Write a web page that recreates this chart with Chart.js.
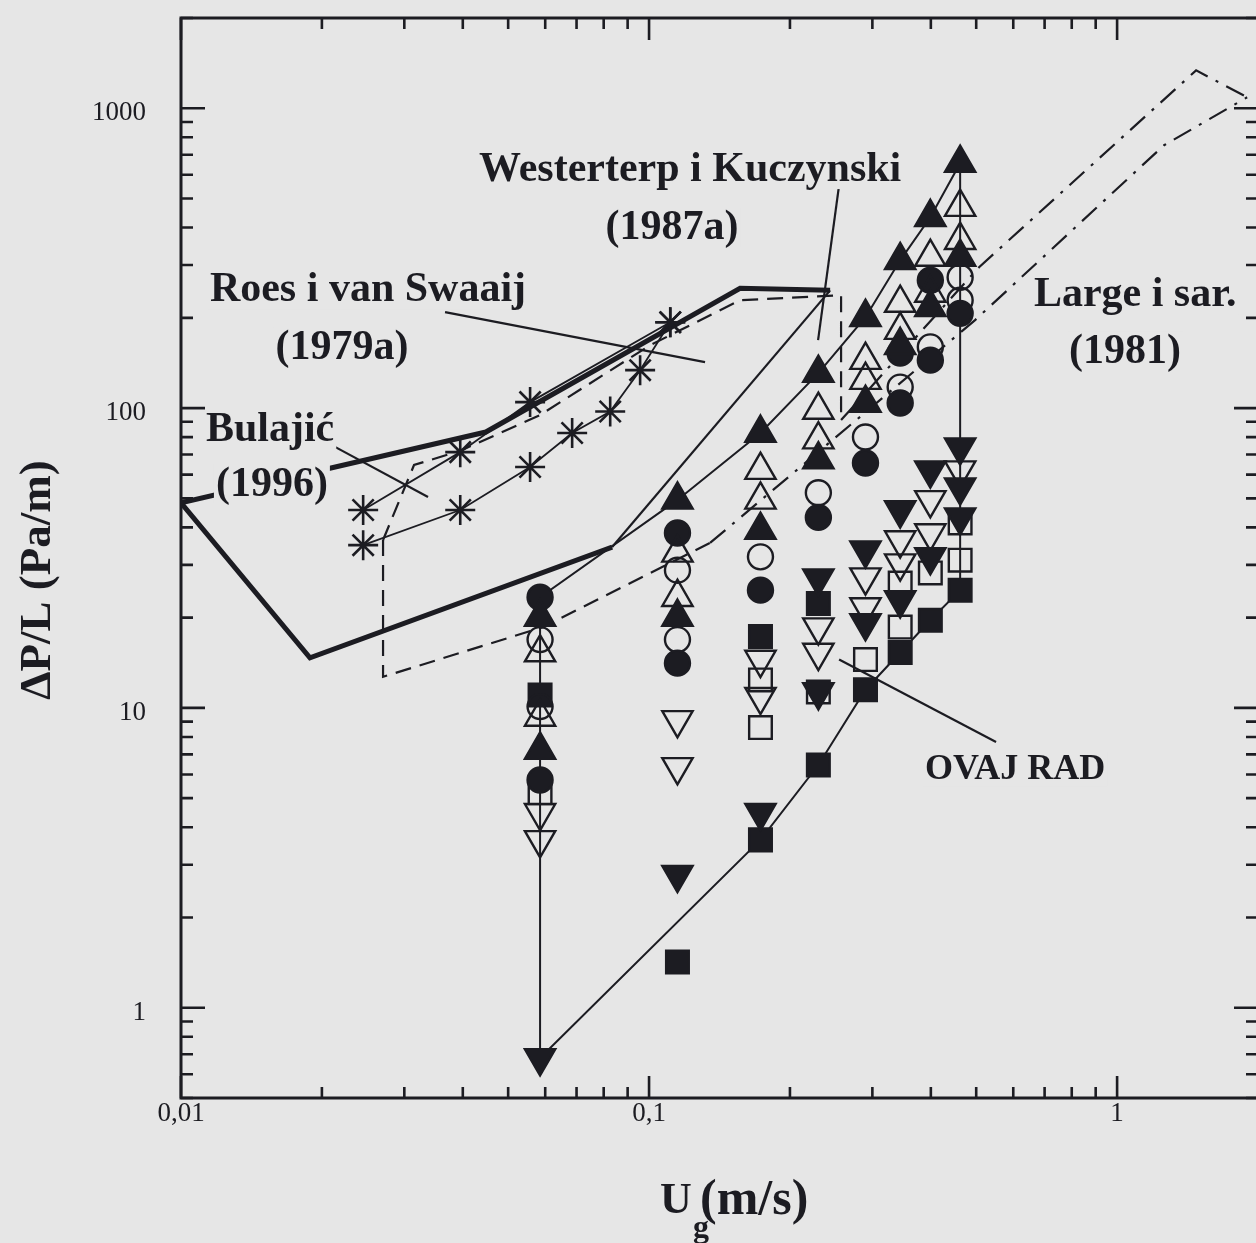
<!DOCTYPE html>
<html><head><meta charset="utf-8">
<script src="https://cdn.jsdelivr.net/npm/chart.js@4"></script>
<style>html,body{margin:0;padding:0;overflow:hidden;background:#e6e6e6}
#wrap{position:absolute;left:0;top:0;width:1262px;height:1243px}</style>
</head><body>
<div id="wrap"><canvas id="c"></canvas></div>
<script>
// ---------- DATA ----------
// gas velocity columns of "OVAJ RAD" (m/s)
const ugCols = [0.0585, 0.115, 0.173, 0.23, 0.29, 0.344, 0.399, 0.462];
// series values (Pa/m), one per column, null = no point
const triUpFilledA  = [20.1, 49.4, 82.6, 130.8, 201, 311, 433, 656];
const triUpFilledB  = [7.24, 20.1, 39.2, 67.3, 103.9, 162, 217, 319];
const triUpOpenA    = [15.3, 32.9, 62.1, 98.5, 144.5, 224, 319, 468];
const triUpOpenB    = [9.33, 23.4, 49.4, 78.5, 124, 182, 242, 363];
const circOpenA     = [16.9, 28.8, 31.9, 52.2, 80.1, 117.5, 160, 273];
const circOpenB     = [10.1, 16.9, null, null, null, null, null, 229];
const circFilledA   = [23.4, 38.3, 24.7, 43.2, 65.6, 104, 144.5, 207];
const circFilledB   = [5.75, 14.1, null, null, null, 152.5, 267, null];
const triDownFilledA = [0.68, 2.78, 4.47, 27.1, 33.6, 45.7, 62.1, 74.1];
const triDownFilledB = [null, null, null, 11.3, 19.2, 22.9, 31.9, 43.3];
const triDownFilledC = [null, null, null, null, null, null, null, 54.5];
const triDownOpenA  = [4.47, 9.12, 14.5, 18.6, 27.3, 36.3, 49.4, 62.1];
const triDownOpenB  = [3.63, 6.36, 10.9, 15.3, 21.7, 30.4, 38.3, null];
const sqOpenA       = [5.21, null, 12.4, 11.3, 14.5, 26.1, 28.2, 41.4];
const sqOpenB       = [null, null, 8.6, null, null, 18.6, null, 31.1];
const sqFilledA     = [11.05, 1.42, 3.63, 6.45, 11.5, 15.3, 19.6, 24.7];
const sqFilledB     = [null, null, 17.3, 22.3, null, null, null, null];

// envelope of this work's data
const envX = [0.0585, 0.0585, 0.115, 0.173, 0.23, 0.29, 0.344, 0.399, 0.462, 0.462, 0.399, 0.344, 0.29, 0.23, 0.173, 0.0585];
const envY = [0.68, 23.4, 49.4, 82.6, 130.8, 201, 311, 433, 656, 24.7, 19.6, 15.3, 11.5, 6.45, 3.63, 0.68];

// Roes i van Swaaij (1979a) asterisks
const roesUpperX = [0.0245, 0.0395, 0.0557, 0.111];
const roesUpperY = [45.7, 71.3, 104.7, 193.4];
const roesLowerX = [0.0245, 0.0395, 0.0557, 0.0685, 0.0826, 0.0957, 0.111];
const roesLowerY = [34.9, 45.7, 63.6, 82.6, 97.4, 133.8, 193.4];

// Bulajić (1996)
const bulUpperX = [0.01, 0.0448, 0.1565, 0.2437];
const bulUpperY = [48.3, 83.2, 251, 247];
const bulLowerX = [0.01, 0.01886, 0.0834];
const bulLowerY = [48.3, 14.7, 34.4];
const bulRightX = [0.0834, 0.2437];
const bulRightY = [34.4, 247];

// Westerterp i Kuczynski (1987a)
const wkUpperX = [0.02702, 0.03147, 0.03947, 0.0585, 0.1005, 0.1565, 0.2572, 0.2572];
const wkUpperY = [36.3, 64.6, 72.0, 94.8, 162, 229, 238, 91.2];
const wkLowerX = [0.02702, 0.02702, 0.05935, 0.135];
const wkLowerY = [36.3, 12.7, 18.6, 35.5];

// Large i sar. (1981)
const lgLowerX = [0.135, 0.4972, 1.26, 1.896];
const lgLowerY = [35.5, 196.5, 753, 1088];
const lgUpperX = [0.2572, 0.5071, 1.475, 1.896];
const lgUpperY = [91.2, 295, 1338, 1088];

// leader lines
const leadWkX = [0.2559, 0.2297];   const leadWkY = [584.6, 168.5];
const leadRoesX = [0.03665, 0.1317]; const leadRoesY = [208.9, 142.3];
const leadBulX = [0.02061, 0.03371]; const leadBulY = [76.4, 50.5];
const leadOvajX = [0.2547, 0.5513];  const leadOvajY = [14.5, 7.70];

// annotation texts
const labelTexts = ['Westerterp i Kuczynski', '(1987a)', 'Roes i van Swaaij', '(1979a)', 'Bulajić', '(1996)', 'Large i sar.', '(1981)', 'OVAJ RAD'];
const labelX = [0.1224, 0.1120, 0.02509, 0.02208, 0.0155, 0.01564, 1.093, 1.040, 0.6053];
const labelY = [621.5, 398, 247.4, 158.5, 84.5, 55.4, 238, 153.7, 6.21];
const labelSize = [42, 42, 42, 42, 42, 42, 42, 42, 36];

const xTickLabels = ['0,01', '0,1', '1'];
const xTickValues = [0.01, 0.1, 1];
const yTickLabels = ['1', '10', '100', '1000'];
const yTickValues = [1, 10, 100, 1000];

// ---------- CHART ----------
const INK = '#1c1c22';
const BG = '#e6e6e6';
function pts(xs, ys) { const o = []; xs.forEach((x, i) => { if (ys[i] != null) o.push({x: x, y: ys[i]}); }); return o; }
function marker(ys, style, filled, radius, rot) {
  return { data: pts(ugCols, ys), showLine: false, pointStyle: style, pointRotation: rot || 0,
    pointRadius: radius, pointHoverRadius: radius,
    pointBackgroundColor: filled ? INK : 'rgba(0,0,0,0)', pointBorderColor: INK, pointBorderWidth: 2.4 };
}
function line(xs, ys, width, dash) {
  return { data: pts(xs, ys), showLine: true, pointRadius: 0, pointHoverRadius: 0, borderColor: INK,
    borderWidth: width, borderDash: dash || [], fill: false, tension: 0, borderJoinStyle: 'miter' };
}
function star(xs, ys) {
  return { data: pts(xs, ys), showLine: true, pointStyle: 'star', pointRadius: 15, pointHoverRadius: 15,
    pointBorderColor: INK, pointBorderWidth: 2.6, pointBackgroundColor: INK, borderColor: INK, borderWidth: 1.8, tension: 0 };
}

const TRI = 17.5, CIR = 12.5, SQ = 16;
const datasets = [
  marker(triUpFilledA, 'triangle', true, TRI),
  marker(triUpFilledB, 'triangle', true, TRI),
  marker(triUpOpenA, 'triangle', false, TRI),
  marker(triUpOpenB, 'triangle', false, TRI),
  marker(circFilledA, 'circle', true, CIR),
  marker(circFilledB, 'circle', true, CIR),
  marker(circOpenA, 'circle', false, CIR),
  marker(circOpenB, 'circle', false, CIR),
  marker(triDownFilledA, 'triangle', true, TRI, 180),
  marker(triDownFilledB, 'triangle', true, TRI, 180),
  marker(triDownFilledC, 'triangle', true, TRI, 180),
  marker(triDownOpenA, 'triangle', false, TRI, 180),
  marker(triDownOpenB, 'triangle', false, TRI, 180),
  marker(sqFilledA, 'rect', true, SQ),
  marker(sqFilledB, 'rect', true, SQ),
  marker(sqOpenA, 'rect', false, SQ),
  marker(sqOpenB, 'rect', false, SQ),
  star(roesUpperX, roesUpperY),
  star(roesLowerX, roesLowerY),
  line(envX, envY, 2),
  line(bulUpperX, bulUpperY, 5),
  line(bulLowerX, bulLowerY, 5),
  line(bulRightX, bulRightY, 2.2),
  line(wkUpperX, wkUpperY, 2.2, [16, 9]),
  line(wkLowerX, wkLowerY, 2.2, [16, 9]),
  line(lgLowerX, lgLowerY, 2.2, [20, 9, 3, 9]),
  line(lgUpperX, lgUpperY, 2.2, [20, 9, 3, 9]),
  line(leadWkX, leadWkY, 2.2),
  line(leadRoesX, leadRoesY, 2.2),
  line(leadBulX, leadBulY, 2.2),
  line(leadOvajX, leadOvajY, 2.2)
];

const AREA = { left: 181, top: 18, right: 1258, bottom: 1098 };

const decor = {
  id: 'decor',
  beforeDraw(chart) {
    const c = chart.ctx; c.save(); c.fillStyle = BG; c.fillRect(0, 0, chart.width, chart.height); c.restore();
  },
  afterDatasetsDraw(chart) {
    const c = chart.ctx, xs = chart.scales.x, ys = chart.scales.y, a = chart.chartArea;
    c.save();
    // annotation labels with paper boxes
    c.textAlign = 'center'; c.textBaseline = 'middle';
    labelTexts.forEach((t, i) => {
      c.font = 'bold ' + labelSize[i] + 'px "Liberation Serif", "Times New Roman", serif';
      const px = xs.getPixelForValue(labelX[i]), py = ys.getPixelForValue(labelY[i]);
      const w = c.measureText(t).width;
      c.fillStyle = BG; c.fillRect(px - w / 2 - 2, py - labelSize[i] * 0.5, w + 4, labelSize[i] * 0.95);
      c.fillStyle = INK; c.fillText(t, px, py);
    });
    // frame
    c.strokeStyle = INK; c.lineWidth = 3;
    c.strokeRect(a.left, a.top, a.right - a.left, a.bottom - a.top);
    // ticks
    c.lineWidth = 2.6;
    const xmin = xs.min, xmax = xs.max, ymin = ys.min, ymax = ys.max;
    for (let d = 0.01; d <= 10; d *= 10) {
      for (let k = 1; k <= 9; k++) {
        const v = d * k; if (v < xmin * 0.999 || v > xmax * 1.001) continue;
        const p = xs.getPixelForValue(v), L = k === 1 ? 22 : 11;
        c.beginPath(); c.moveTo(p, a.bottom); c.lineTo(p, a.bottom - L); c.moveTo(p, a.top); c.lineTo(p, a.top + L); c.stroke();
      }
    }
    for (let d = 0.1; d <= 1000; d *= 10) {
      for (let k = 1; k <= 9; k++) {
        const v = d * k; if (v < ymin * 0.999 || v > ymax * 1.001) continue;
        const p = ys.getPixelForValue(v), L = k === 1 ? 24 : 12;
        c.beginPath(); c.moveTo(a.left, p); c.lineTo(a.left + L, p); c.moveTo(a.right, p); c.lineTo(a.right - L, p); c.stroke();
      }
    }
    // tick labels
    c.fillStyle = INK; c.font = '27px "Liberation Serif", "Times New Roman", serif';
    c.textAlign = 'center'; c.textBaseline = 'middle';
    xTickValues.forEach((v, i) => c.fillText(xTickLabels[i], xs.getPixelForValue(v), a.bottom + 16));
    c.textAlign = 'right';
    yTickValues.forEach((v, i) => c.fillText(yTickLabels[i], a.left - 35, ys.getPixelForValue(v) + 5));
    // axis titles
    c.textAlign = 'left'; c.textBaseline = 'alphabetic';
    c.font = 'bold 44px "Liberation Serif", "Times New Roman", serif';
    c.fillText('U', 660, 1213);
    c.font = 'bold 50px "Liberation Serif", "Times New Roman", serif';
    c.fillText('(m/s)', 700, 1214);
    c.font = 'bold 32px "Liberation Serif", "Times New Roman", serif';
    c.fillText('g', 693, 1237);
    c.save(); c.translate(50, 580); c.rotate(-Math.PI / 2);
    c.font = 'bold 45px "Liberation Serif", "Times New Roman", serif';
    c.textAlign = 'center'; c.fillText('ΔP/L (Pa/m)', 0, 0);
    c.restore();
    c.restore();
  }
};

const chart = new Chart(document.getElementById('c'), {
  type: 'scatter',
  data: { datasets: datasets },
  options: {
    responsive: true, maintainAspectRatio: false, animation: false, devicePixelRatio: 1,
    layout: { autoPadding: false, padding: { left: AREA.left, top: AREA.top, right: 1262 - AREA.right, bottom: 1243 - AREA.bottom } },
    scales: {
      x: { type: 'logarithmic', min: 0.01, max: 2, display: false },
      y: { type: 'logarithmic', min: 0.5, max: 2000, display: false }
    },
    plugins: { legend: { display: false }, tooltip: { enabled: false } },
    events: []
  },
  plugins: [decor]
});
</script></body></html>
